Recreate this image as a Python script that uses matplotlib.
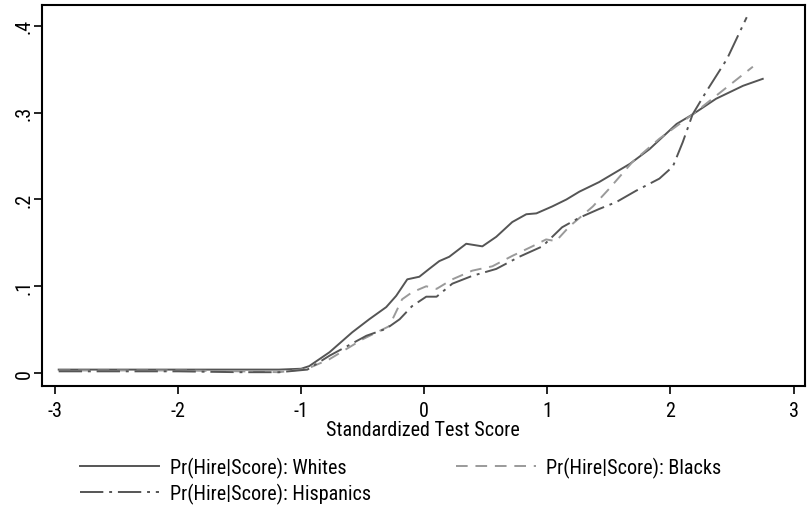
import matplotlib
matplotlib.use("Agg")
import matplotlib.pyplot as plt

plt.rcParams['font.family'] = ['Roboto Condensed', 'Liberation Sans', 'DejaVu Sans']

# values
x_whites = [-2.97, -2.5, -2.0, -1.5, -1.18, -1.0, -0.935, -0.77, -0.585, -0.447, -0.309,
            -0.228, -0.138, -0.04, 0.04, 0.122, 0.203, 0.341, 0.472, 0.585, 0.715, 0.829,
            0.911, 1.04, 1.155, 1.26, 1.42, 1.67, 1.83, 2.05, 2.18, 2.37, 2.59, 2.75]
y_whites = [0.004, 0.004, 0.004, 0.004, 0.004, 0.005, 0.008, 0.024, 0.047, 0.062, 0.076,
            0.089, 0.108, 0.111, 0.120, 0.129, 0.134, 0.149, 0.146, 0.157, 0.174, 0.183,
            0.184, 0.192, 0.200, 0.209, 0.220, 0.241, 0.258, 0.287, 0.298, 0.316, 0.331, 0.339]

x_blacks = [-2.97, -2.5, -2.0, -1.5, -1.18, -0.95, -0.77, -0.5, -0.285, -0.18, -0.10,
            0.016, 0.10, 0.228, 0.39, 0.553, 0.715, 0.878, 0.99, 1.07, 1.18, 1.28, 1.37,
            1.50, 1.69, 1.91, 2.18, 2.42, 2.67]
y_blacks = [0.003, 0.003, 0.003, 0.002, 0.001, 0.005, 0.016, 0.039, 0.054, 0.085, 0.093,
            0.100, 0.097, 0.108, 0.118, 0.123, 0.135, 0.146, 0.154, 0.152, 0.169, 0.181, 0.192,
            0.212, 0.243, 0.270, 0.298, 0.325, 0.353]

x_hisp = [-2.97, -2.5, -2.0, -1.5, -1.18, -0.95, -0.77, -0.47, -0.31, -0.20, -0.10,
          0.016, 0.10, 0.228, 0.39, 0.585, 0.772, 0.96, 1.12, 1.26, 1.42, 1.56, 1.72,
          1.91, 2.02, 2.10, 2.18, 2.29, 2.46, 2.62]
y_hisp = [0.002, 0.002, 0.002, 0.001, 0.001, 0.004, 0.020, 0.043, 0.051, 0.062, 0.077,
          0.088, 0.088, 0.103, 0.112, 0.120, 0.134, 0.146, 0.168, 0.179, 0.189, 0.197, 0.210,
          0.224, 0.238, 0.266, 0.298, 0.324, 0.362, 0.410]

x_ticks = [-3, -2, -1, 0, 1, 2, 3]
y_ticks = [0, 0.1, 0.2, 0.3, 0.4]
y_tick_labels = ["0", ".1", ".2", ".3", ".4"]

fs = 14.5

fig = plt.figure(figsize=(8.07, 5.06), dpi=100)
ax = fig.add_axes([0.052, 0.235, 0.945, 0.753])

ax.plot(x_whites, y_whites, color='#555555', lw=1.4, ls='-',
        label='Pr(Hire|Score): Whites')
ax.plot(x_blacks, y_blacks, color='#9a9a9a', lw=1.4, ls=(0, (6, 4)),
        label='Pr(Hire|Score): Blacks')
ax.plot(x_hisp, y_hisp, color='#555555', lw=1.4, ls=(0, (12, 3, 1.5, 3)),
        label='Pr(Hire|Score): Hispanics')

ax.set_xlim(-3.106, 3.09)
ax.set_ylim(-0.015, 0.424)
ax.set_xticks(x_ticks)
ax.set_xticklabels([str(t) for t in x_ticks])
ax.set_yticks(y_ticks)
ax.set_yticklabels(y_tick_labels, rotation=90, va='center')
ax.tick_params(direction='out', length=6, width=1.2, labelsize=fs)
ax.tick_params(axis='x', pad=5)
ax.tick_params(axis='y', pad=0)
for s in ax.spines.values():
    s.set_linewidth(1.5)
ax.set_xlabel('Standardized Test Score', fontsize=fs, labelpad=0)

handles, labels = ax.get_legend_handles_labels()
order = [0, 2, 1]
fig.legend([handles[i] for i in order], [labels[i] for i in order],
           loc='upper left', bbox_to_anchor=(0.099, 0.096), ncol=2,
           frameon=False, fontsize=fs, handlelength=3.95, handletextpad=0.5,
           columnspacing=4.25, labelspacing=0.25, borderaxespad=0, borderpad=0)

fig.savefig('out.png', dpi=100)
